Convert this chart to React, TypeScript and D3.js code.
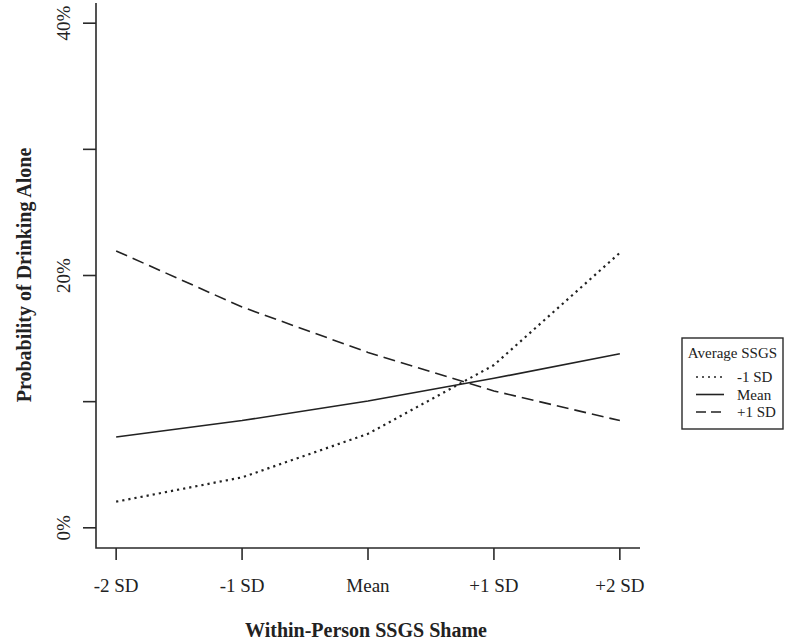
import React, { useEffect, useRef } from 'react';
import * as d3 from 'd3';

const categories = ['-2 SD', '-1 SD', 'Mean', '+1 SD', '+2 SD'];
const lowSSGS = [2.07, 4.0, 7.45, 12.9, 21.8]; // -1 SD
const meanSSGS = [7.2, 8.5, 10.05, 11.85, 13.8]; // Mean
const highSSGS = [21.95, 17.5, 13.9, 10.85, 8.5]; // +1 SD
const yTicks = [0, 10, 20, 30, 40];
const yTickLabels = ['0%', '', '20%', '', '40%'];
const legendTitle = 'Average SSGS';
const seriesNames = ['-1 SD', 'Mean', '+1 SD'];

const FONT = '"Liberation Serif", "Times New Roman", serif';

const App = () => {
  const chartRef = useRef<SVGSVGElement>(null);

  useEffect(() => {
    const width = 788;
    const height = 643;
    const svg = d3.select(chartRef.current);
    svg.selectAll('*').remove();
    svg.attr('width', width).attr('height', height);

    svg.append('rect').attr('width', width).attr('height', height).attr('fill', '#fff');

    // plot region like R: 4% padding each side
    const left = 96, right = 640, top = 3, bottom = 548;

    const x = d3.scalePoint()
      .domain(categories)
      .range([left, right])
      .padding(0.16);

    const y = d3.scaleLinear()
      .domain([-1.6, 41.6])
      .range([bottom, top]);

    // L-shaped axes
    svg.append('path')
      .attr('d', `M${left},${top}V${bottom}H${right}`)
      .attr('fill', 'none')
      .attr('stroke', '#2a2a2a')
      .attr('stroke-width', 1.6);

    // y ticks
    svg.selectAll('.ytick')
      .data(yTicks)
      .enter()
      .append('line')
      .attr('x1', left - 13)
      .attr('x2', left)
      .attr('y1', d => y(d))
      .attr('y2', d => y(d))
      .attr('stroke', '#2a2a2a')
      .attr('stroke-width', 1.6);

    svg.selectAll('.ylab')
      .data(yTicks)
      .enter()
      .append('text')
      .attr('transform', d => `translate(70, ${y(d)}) rotate(-90)`)
      .attr('text-anchor', 'middle')
      .attr('font-family', FONT)
      .attr('font-size', 19)
      .attr('fill', '#222')
      .text((d, i) => yTickLabels[i]);

    // x ticks
    svg.selectAll('.xtick')
      .data(categories)
      .enter()
      .append('line')
      .attr('x1', d => x(d))
      .attr('x2', d => x(d))
      .attr('y1', bottom)
      .attr('y2', bottom + 12)
      .attr('stroke', '#2a2a2a')
      .attr('stroke-width', 1.6);

    svg.selectAll('.xlab')
      .data(categories)
      .enter()
      .append('text')
      .attr('x', d => x(d))
      .attr('y', 592)
      .attr('text-anchor', 'middle')
      .attr('font-family', FONT)
      .attr('font-size', 19)
      .attr('fill', '#222')
      .text(d => d);

    // axis titles
    svg.append('text')
      .attr('x', (left + right) / 2 - 2)
      .attr('y', 637)
      .attr('text-anchor', 'middle')
      .attr('font-family', FONT)
      .attr('font-weight', 'bold')
      .attr('font-size', 20)
      .attr('fill', '#222')
      .text('Within-Person SSGS Shame');

    svg.append('text')
      .attr('transform', `translate(31, 275) rotate(-90)`)
      .attr('text-anchor', 'middle')
      .attr('font-family', FONT)
      .attr('font-weight', 'bold')
      .attr('font-size', 20)
      .attr('fill', '#222')
      .text('Probability of Drinking Alone');

    // series lines
    const series = [
      { name: seriesNames[0], values: lowSSGS, dash: '2.2 4', width: 2.2 },
      { name: seriesNames[1], values: meanSSGS, dash: null, width: 1.6 },
      { name: seriesNames[2], values: highSSGS, dash: '12 6', width: 1.6 },
    ];

    const line = d3.line<number>()
      .x((d, i) => x(categories[i]) as number)
      .y(d => y(d));

    series.forEach(s => {
      svg.append('path')
        .datum(s.values)
        .attr('d', line)
        .attr('fill', 'none')
        .attr('stroke', '#222')
        .attr('stroke-width', s.width)
        .attr('stroke-dasharray', s.dash);
    });

    // legend
    const lg = svg.append('g');
    lg.append('rect')
      .attr('x', 682)
      .attr('y', 338)
      .attr('width', 101)
      .attr('height', 91)
      .attr('fill', '#fff')
      .attr('stroke', '#2a2a2a')
      .attr('stroke-width', 1.4);

    lg.append('text')
      .attr('x', 732.5)
      .attr('y', 358)
      .attr('text-anchor', 'middle')
      .attr('font-family', FONT)
      .attr('font-size', 15)
      .attr('fill', '#222')
      .text(legendTitle);

    series.forEach((s, i) => {
      const cy = 377 + i * 17.5;
      lg.append('line')
        .attr('x1', 696)
        .attr('x2', 724)
        .attr('y1', cy)
        .attr('y2', cy)
        .attr('stroke', '#222')
        .attr('stroke-width', s.dash ? (i === 0 ? 1.6 : 1.6) : 1.6)
        .attr('stroke-dasharray', i === 0 ? '2 4' : i === 2 ? '10 5' : null);
      lg.append('text')
        .attr('x', 737)
        .attr('y', cy)
        .attr('dy', '0.35em')
        .attr('font-family', FONT)
        .attr('font-size', 15)
        .attr('fill', '#222')
        .text(s.name);
    });
  }, []);

  return (
    <svg
      ref={chartRef}
      style={{ position: 'absolute', left: 0, top: 0, display: 'block' }}
    />
  );
};

export default App;
